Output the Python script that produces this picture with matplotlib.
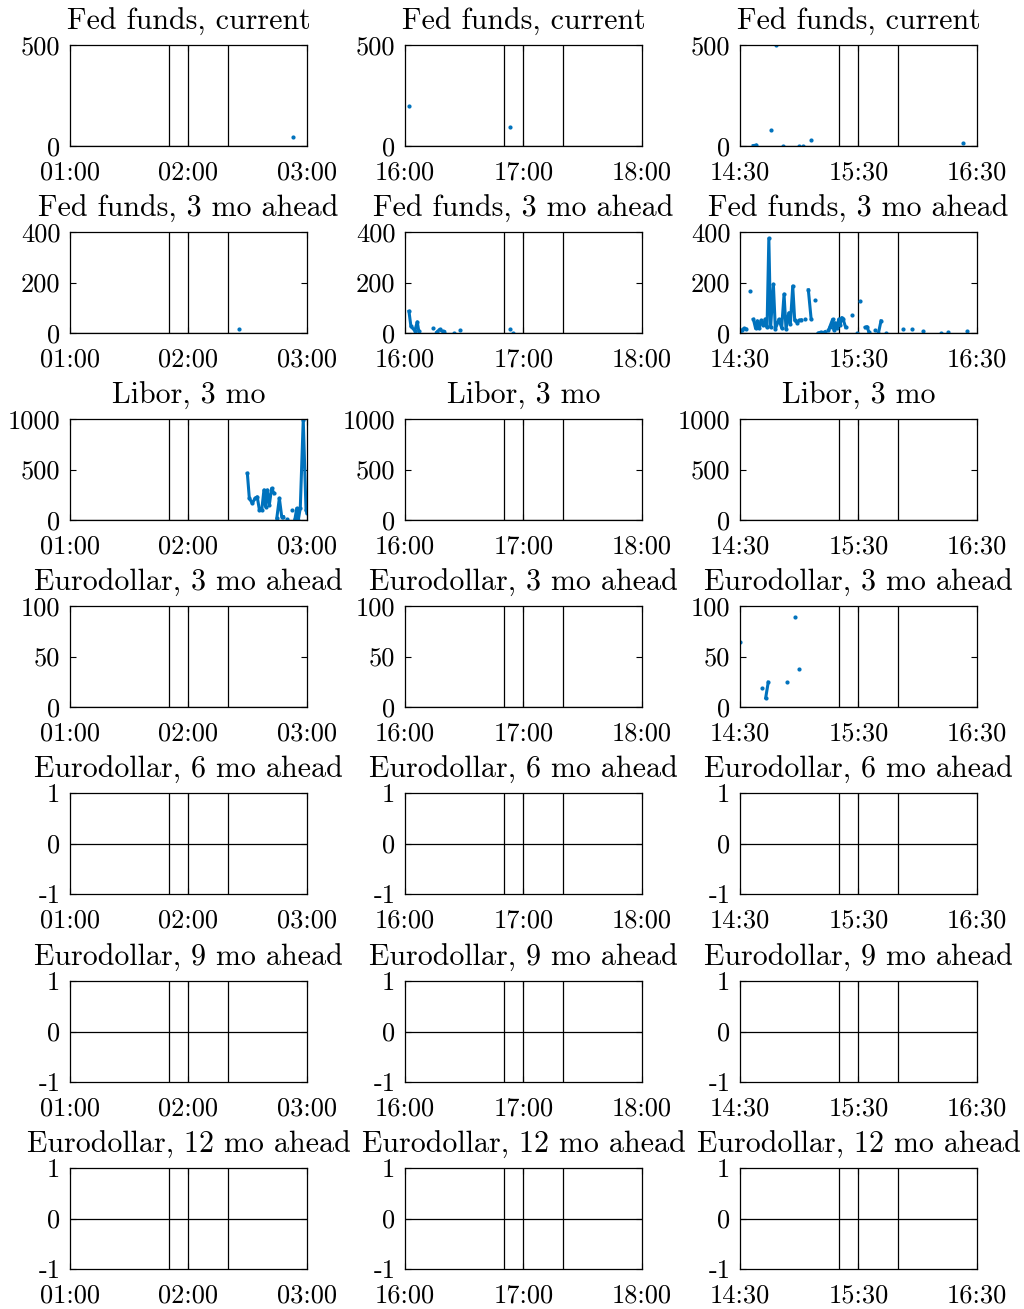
import numpy as np
import matplotlib
matplotlib.use("Agg")
import matplotlib.pyplot as plt

plt.rcParams['font.family'] = ['cmr10', 'DejaVu Serif']
plt.rcParams['mathtext.fontset'] = 'cm'
plt.rcParams['axes.unicode_minus'] = False

# ---------------- data ----------------
titles = ["Fed funds, current", "Fed funds, 3 mo ahead", "Libor, 3 mo",
          "Eurodollar, 3 mo ahead", "Eurodollar, 6 mo ahead",
          "Eurodollar, 9 mo ahead", "Eurodollar, 12 mo ahead"]

col_start = ["01:00", "16:00", "14:30"]
col_ticks = [["01:00", "02:00", "03:00"], ["16:00", "17:00", "18:00"], ["14:30", "15:30", "16:30"]]
col_vlines = [["01:50", "02:00", "02:20"], ["16:50", "17:00", "17:20"], ["15:20", "15:30", "15:50"]]

y_lims = [(0, 500), (0, 400), (0, 1000), (0, 100), (-1, 1), (-1, 1), (-1, 1)]
y_ticks = [[0, 500], [0, 200, 400], [0, 500, 1000], [0, 50, 100], [-1, 0, 1], [-1, 0, 1], [-1, 0, 1]]

# Fed funds, current
ffc_c1_t = ["02:53"]
ffc_c1_v = [45]
ffc_c2_t = ["16:02", None, "16:53"]
ffc_c2_v = [198, None, 94]
ffc_c3_t = ["14:36.7", "14:38", None, "14:45.8", None, "14:48", None, "14:52", None,
            "15:00", None, "15:02", None, "15:06", None, "16:23"]
ffc_c3_v = [2, 4, None, 79, None, 498, None, 0, None, 0, None, 0, None, 31, None, 16]

# Fed funds, 3 mo ahead
ff3_c1_t = ["02:25.6"]
ff3_c1_v = [15]
ff3_c2_t = ["16:02", "16:03", "16:05", "16:06.2", "16:07", None,
            "16:14", None, "16:16", "16:17.5", "16:19", "16:20", None, "16:25", None, "16:28",
            None, "16:53", None, "16:54.5"]
ff3_c2_v = [86, 26, 9, 44, 6, None,
            18, None, 3, 14, 6, 5, None, 0, None, 10,
            None, 14, None, 0]
ff3_c3_t = ["14:30", "14:31", "14:32", "14:33", None, "14:35", None,
            "14:36.8", "14:37.9", "14:38.8", "14:39.8", "14:40.7", "14:41.8", "14:42.8", "14:43.7",
            "14:44.6", "14:45.5", "14:46.9", "14:47.9", "14:49.7", "14:51.1", "14:52.3", "14:53.3",
            "14:54.7", "14:55.5", "14:56.7", "14:57.7", "14:58.9", "14:59.9", "15:01", None,
            "15:03", None, "15:04.6", "15:06", None, "15:07.8", None,
            "15:09.7", "15:10.8", "15:11.7", "15:13", None,
            "15:14.8", "15:15.5", "15:16.9", "15:17.6", "15:18.3", "15:19.1", "15:20", "15:20.6",
            "15:21.5", "15:22.2", "15:23.5", None, "15:26.9", None, "15:29", None, "15:30.9", None,
            "15:33.5", "15:34.3", "15:35.2", None, "15:38.5", None, "15:40.1", "15:41.4", None,
            "15:43.9", None, "15:52.7", None, "15:56.9", None, "16:02.8", None,
            "16:11.6", None, "16:15.5", None, "16:24.8"]
ff3_c3_v = [0, 12, 18, 16, None, 167, None,
            54, 18, 48, 20, 50, 30, 55, 22,
            375, 22, 193, 16, 54, 20, 154, 16,
            80, 35, 186, 50, 41, 50, 52, None,
            54, None, 171, 57, None, 131, None,
            0, 3, 0, 5, None,
            10, 25, 54, 12, 40, 20, 55, 30,
            61, 55, 22, None, 70, None, 0, None, 127, None,
            22, 25, 5, None, 10, None, 0, 48, None,
            0, None, 16, None, 16, None, 8, None,
            0, None, 2, None, 6]

# Libor, 3 mo
lib_c1_t = ["02:29.8", "02:30.8", "02:32.3", "02:33.7", "02:34.8", "02:35.9", "02:37.1",
            "02:38.2", "02:39", "02:39.9", "02:40.9", "02:42.1", "02:43.3", None,
            "02:44.7", "02:46", "02:47.2", "02:48", None, "02:50", None, "02:52.2", None,
            "02:53.9", "02:54.8", "02:55.6", "02:56.6", "02:58.1", "02:59.5", "03:00"]
lib_c1_v = [462, 215, 165, 215, 230, 99, 100, 297, 132, 297, 148, 313, 263, None,
            17, 215, 33, 33, None, 7, None, 99, None,
            10, 115, 0, 120, 990, 99, 66]

# Eurodollar, 3 mo ahead
ed3_c3_t = ["14:30", None, "14:41", None, "14:43", "14:44.3", None, "14:54", None, "14:58", None, "14:59.9"]
ed3_c3_v = [64, None, 19, None, 9, 24.5, None, 24.5, None, 89, None, 38]

panel_data = {
    (0, 0): (ffc_c1_t, ffc_c1_v), (0, 1): (ffc_c2_t, ffc_c2_v), (0, 2): (ffc_c3_t, ffc_c3_v),
    (1, 0): (ff3_c1_t, ff3_c1_v), (1, 1): (ff3_c2_t, ff3_c2_v), (1, 2): (ff3_c3_t, ff3_c3_v),
    (2, 0): (lib_c1_t, lib_c1_v),
    (3, 2): (ed3_c3_t, ed3_c3_v),
}


def to_min(s):
    if s is None:
        return np.nan
    h, m = s.split(":")
    return int(h) * 60 + float(m)


def to_val(v):
    return np.nan if v is None else v


W, H = 1024, 1309
fig = plt.figure(figsize=(W / 100, H / 100), dpi=100)

lefts = [70, 405, 740]
tops = [45, 232, 419, 606, 793, 981, 1168]
aw, ah = 237, 101
blue = "#0072BD"
fs_tick = 19
fs_title = 21.6

for r in range(7):
    for c in range(3):
        ax = fig.add_axes([lefts[c] / W, 1 - (tops[r] + ah) / H, aw / W, ah / H])
        x0 = to_min(col_start[c])
        ax.set_xlim(x0, x0 + 120)
        ax.set_ylim(*y_lims[r])
        for v in col_vlines[c]:
            ax.axvline(to_min(v), color="black", lw=0.9)
        ax.axhline(0, color="black", lw=0.9)
        if (r, c) in panel_data:
            t, v = panel_data[(r, c)]
            xs = np.array([to_min(s) for s in t])
            ys = np.array([to_val(s) for s in v], dtype=float)
            ax.plot(xs, ys, color=blue, lw=2.2, marker=".", ms=4, clip_on=True)
        ax.set_xticks([to_min(s) for s in col_ticks[c]])
        ax.set_xticklabels(col_ticks[c], fontsize=fs_tick)
        ax.set_yticks(y_ticks[r])
        ax.set_yticklabels([str(k) for k in y_ticks[r]], fontsize=fs_tick)
        ax.tick_params(direction="in", top=True, right=True, length=4, width=0.8)
        ax.tick_params(axis="x", pad=10.5)
        ax.tick_params(axis="y", pad=7)
        for sp in ax.spines.values():
            sp.set_linewidth(0.9)
        ax.set_title(titles[r], fontsize=fs_title, pad=11)

fig.savefig("out.png", dpi=100)
